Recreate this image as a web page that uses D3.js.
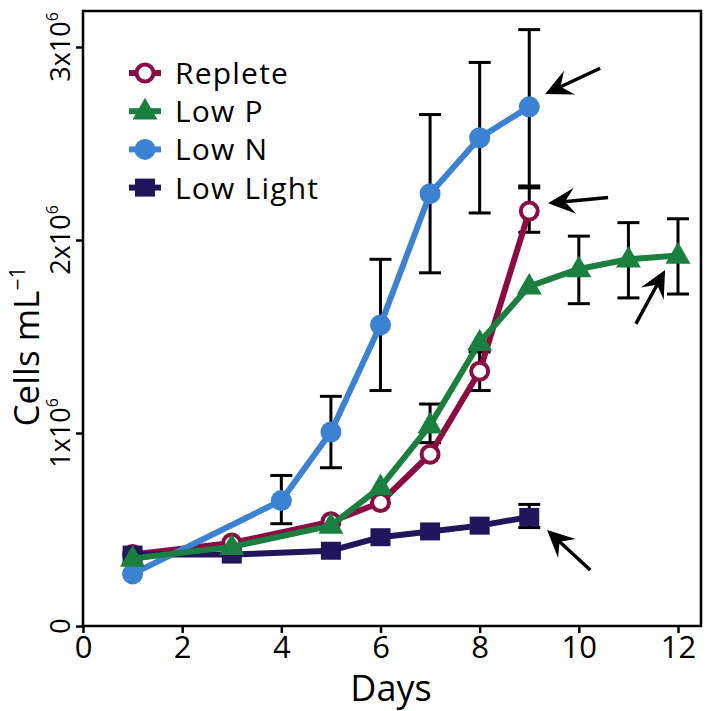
<!DOCTYPE html>
<html><head><meta charset="utf-8">
<script src="https://cdn.jsdelivr.net/npm/d3@7"></script>
<style>body{margin:0;background:#fff}svg{display:block}text{font-family:"Open Sans",sans-serif}</style>
</head><body><svg id="c" width="709" height="711"></svg>
<script>
const seriesNames = ["Replete","Low P","Low N","Low Light"];
const seriesColors = ["#8a0c42","#1a7f3f","#3b82d3","#21165c"];
const days = {
  "Replete":   [1,3,5,6,7,8,9],
  "Low P":     [1,3,5,6,7,8,9,10,11,12],
  "Low N":     [1,4,5,6,7,8,9],
  "Low Light": [1,3,5,6,7,8,9]
};
const values = { // millions of cells per mL
  "Replete":   [0.37,0.43,0.54,0.64,0.89,1.32,2.15],
  "Low P":     [0.35,0.41,0.52,0.72,1.04,1.47,1.76,1.85,1.90,1.92],
  "Low N":     [0.27,0.65,1.005,1.56,2.24,2.53,2.69],
  "Low Light": [0.37,0.37,0.39,0.46,0.49,0.52,0.565]
};
// error bars: [series, day, low, high]
const errorBars = [
  ["Low N",4,0.53,0.78],["Low N",5,0.82,1.19],["Low N",6,1.22,1.90],
  ["Low N",7,1.83,2.65],["Low N",8,2.14,2.92],["Low N",9,2.28,3.09],
  ["Replete",8,1.22,1.42],["Replete",9,2.04,2.27],
  ["Low P",7,0.95,1.15],["Low P",10,1.67,2.02],["Low P",11,1.70,2.09],["Low P",12,1.72,2.11],
  ["Low Light",9,0.51,0.63]
];
// arrows: tail (x1,y1) -> tip (x2,y2) in data units
const arrows = [
  [10.43,2.89,9.32,2.756],
  [10.59,2.22,9.38,2.19],
  [11.15,1.565,11.74,1.845],
  [10.23,0.29,9.36,0.497]
];
const xTicks = [0,2,4,6,8,10,12];
const yTicks = [0,1,2,3];
const yTickLabels = ["0","1x10","2x10","3x10"];

const svg = d3.select("#c");
const L=83, T=11, W=618, H=615;
const pxDay = (678-83)/12, pxMil = 193;
const x = d3.scaleLinear().domain([0, W/pxDay]).range([L, L+W]);
const y = d3.scaleLinear().domain([0, H/pxMil]).range([T+H, T]);

// frame
svg.append("rect").attr("x",L).attr("y",T).attr("width",W).attr("height",H)
  .attr("fill","none").attr("stroke","#000").attr("stroke-width",2.5);

// x axis
const xa = svg.append("g").attr("transform",`translate(0,${T+H})`)
  .call(d3.axisBottom(x).tickValues(xTicks).tickSize(7).tickPadding(3).tickFormat(d3.format("d")));
xa.select(".domain").remove();
xa.selectAll("line").attr("stroke","#000").attr("stroke-width",2.5);
xa.selectAll("text").attr("font-size",31).attr("fill","#000");

// y axis
const ya = svg.append("g").attr("transform",`translate(${L},0)`)
  .call(d3.axisLeft(y).tickValues(yTicks).tickSize(7).tickFormat(""));
ya.select(".domain").remove();
ya.selectAll("line").attr("stroke","#000").attr("stroke-width",2.5);
yTicks.forEach((v,i)=>{
  const t = svg.append("text").attr("transform",`translate(${L-13},${y(v)}) rotate(-90)`)
    .attr("text-anchor","middle").attr("font-size",27).attr("fill","#000");
  t.append("tspan").text(yTickLabels[i]);
  if(v!==0) t.append("tspan").attr("font-size",16).attr("dy",-12).text("6");
});

// axis titles
svg.append("text").attr("x",391).attr("y",701).attr("text-anchor","middle")
  .attr("font-size",36).attr("fill","#000").text("Days");
const yt = svg.append("text").attr("transform",`translate(39,${T+H/2+28}) rotate(-90)`)
  .attr("text-anchor","middle").attr("font-size",35).attr("fill","#000");
yt.append("tspan").text("Cells mL");
yt.append("tspan").attr("font-size",21).attr("dy",-14).text("\u22121");

// error bars
const eg = svg.append("g").attr("stroke","#000").attr("stroke-width",3);
errorBars.forEach(([s,d,lo,hi])=>{
  eg.append("line").attr("x1",x(d)).attr("x2",x(d)).attr("y1",y(lo)).attr("y2",y(hi));
  [lo,hi].forEach(v=>eg.append("line").attr("x1",x(d)-11).attr("x2",x(d)+11).attr("y1",y(v)).attr("y2",y(v)));
});

function drawMarker(g, name, cx, cy, scale){
  const i = seriesNames.indexOf(name), c = seriesColors[i];
  scale = scale||1;
  if(name==="Replete"){
    g.append("circle").attr("cx",cx).attr("cy",cy).attr("r",8.5*scale).attr("fill","#fff").attr("stroke",c).attr("stroke-width",4);
  } else if(name==="Low P"){
    g.append("path").attr("d",d3.symbol(d3.symbolTriangle, 270*scale*scale)()).attr("transform",`translate(${cx},${cy+1})`).attr("fill",c);
  } else if(name==="Low N"){
    g.append("circle").attr("cx",cx).attr("cy",cy).attr("r",10.5*scale).attr("fill",c);
  } else {
    g.append("rect").attr("x",cx-10*scale).attr("y",cy-9*scale).attr("width",20*scale).attr("height",18*scale).attr("fill",c);
  }
}

// series: draw order replete, low light, low N, low P
const order = ["Replete","Low Light","Low N","Low P"];
const line = d3.line().x(d=>x(d[0])).y(d=>y(d[1]));
order.forEach(name=>{
  const c = seriesColors[seriesNames.indexOf(name)];
  const pts = days[name].map((d,i)=>[d, values[name][i]]);
  const g = svg.append("g");
  g.append("path").datum(pts).attr("d",line).attr("fill","none").attr("stroke",c)
    .attr("stroke-width",6).attr("stroke-linejoin","round");
  pts.forEach(p=>drawMarker(g,name,x(p[0]),y(p[1])));
});

// arrows
function arrowHead(x1,y1,x2,y2){
  const a = Math.atan2(y2-y1,x2-x1);
  const len=27, wid=13, notch=17;
  const pts = [[0,0],[-len,-wid],[-notch,0],[-len,wid]].map(([u,v])=>[x2+u*Math.cos(a)-v*Math.sin(a), y2+u*Math.sin(a)+v*Math.cos(a)]);
  return "M"+pts.map(p=>p.join(",")).join("L")+"Z";
}
arrows.forEach(([a1,b1,a2,b2])=>{
  const X1=x(a1),Y1=y(b1),X2=x(a2),Y2=y(b2);
  const ang=Math.atan2(Y2-Y1,X2-X1);
  svg.append("line").attr("x1",X1).attr("y1",Y1).attr("x2",X2-16*Math.cos(ang)).attr("y2",Y2-16*Math.sin(ang))
    .attr("stroke","#000").attr("stroke-width",3.5);
  svg.append("path").attr("d",arrowHead(X1,Y1,X2,Y2)).attr("fill","#000");
});

// legend
const lg = svg.append("g");
seriesNames.forEach((name,i)=>{
  const cy = 73 + i*38.2, c = seriesColors[i];
  lg.append("line").attr("x1",129).attr("x2",161).attr("y1",cy).attr("y2",cy).attr("stroke",c).attr("stroke-width",6);
  drawMarker(lg,name,145,cy);
  lg.append("text").attr("x",175).attr("y",cy+11).attr("font-size",30).attr("letter-spacing",1.2).attr("fill","#000").text(name);
});
</script></body></html>
